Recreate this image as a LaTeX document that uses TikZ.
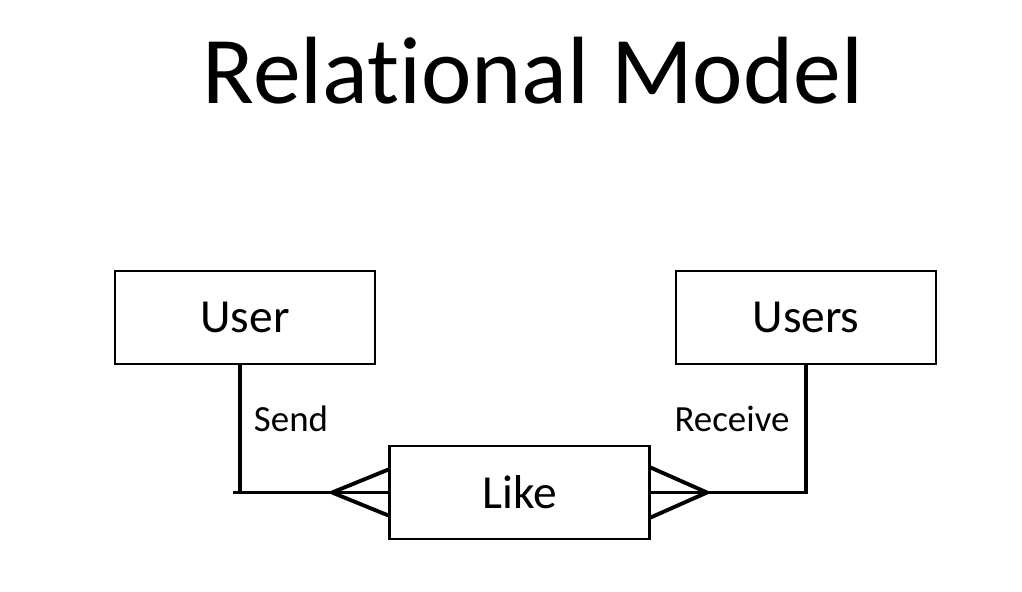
\documentclass[tikz,border=0pt]{standalone}
\usepackage{fontspec}
\setmainfont{Carlito}[Ligatures=NoCommon]
\usetikzlibrary{positioning}

\tikzset{
	entity/.style={draw, line width=0.6pt, minimum width=2.6cm, minimum height=0.93cm, font=\fontsize{13.5}{16}\selectfont},
	link/.style={line width=1.1pt},
	rolelabel/.style={font=\fontsize{10.5}{12}\selectfont}
}

\begin{document}
\begin{tikzpicture}
	\useasboundingbox (0, 0) rectangle (10.22, 5.91);

	\node[anchor=base, font=\fontsize{27.2}{32}\selectfont] (title) at (5.33, 4.88) {Relational Model};

	\node[entity] (user) at (2.45, 2.735) {User};
	\node[entity] (users) at (8.06, 2.735) {Users};
	\node[entity] (like) at (5.195, 0.985) {Like};

	\node[rolelabel] (send) at (2.91, 1.72) {Send};
	\node[rolelabel] (receive) at (7.32, 1.72) {Receive};

	\coordinate (sendCorner) at (2.40, 0.985);
	\coordinate (sendFoot) at (3.32, 0.985);
	\coordinate (receiveFoot) at (7.07, 0.985);

	% send side
	\draw[link] (user.south -| sendCorner) -- (sendCorner);
	\draw[link] ([xshift=-0.07cm]sendCorner) -- (like.west);
	\draw[link] (sendFoot) -- ([yshift=0.23cm]like.west);
	\draw[link] (sendFoot) -- ([yshift=-0.23cm]like.west);

	% receive side
	\draw[link] (users.south) |- (like.east);
	\draw[link] (receiveFoot) -- ([yshift=0.25cm]like.east);
	\draw[link] (receiveFoot) -- ([yshift=-0.25cm]like.east);

\end{tikzpicture}
\end{document}
